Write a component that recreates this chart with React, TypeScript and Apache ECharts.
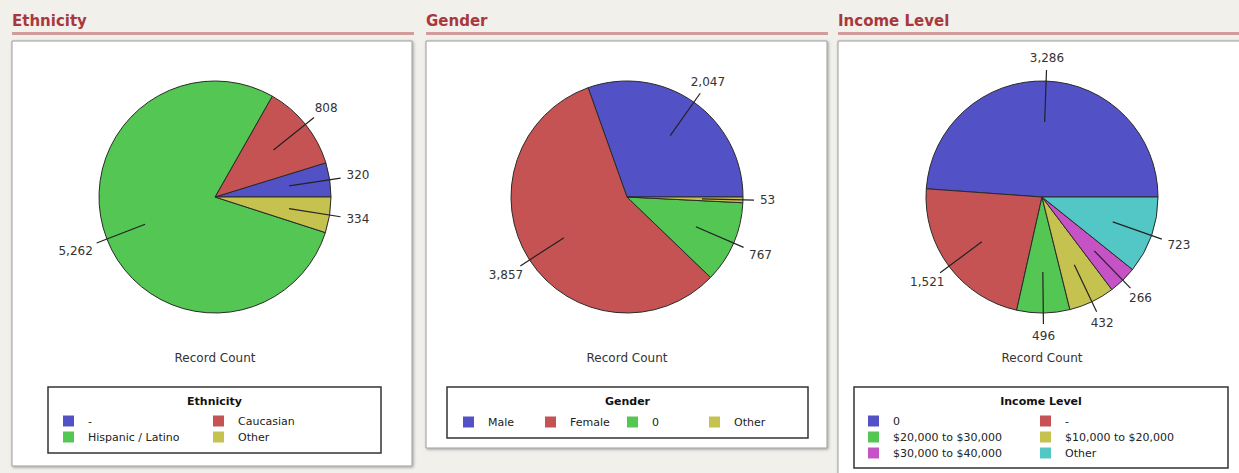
import React, { useEffect, useRef } from 'react';
import * as echarts from 'echarts';

const W = 1239;
const H = 473;
const FONT = '"DejaVu Sans", Verdana, sans-serif';
const PALETTE = ['#5252c6', '#c65353', '#53c653', '#c6c24f', '#c653c6', '#53c6c6'];

// ---- data ----
const ethnicityCategories = ['-', 'Caucasian', 'Hispanic / Latino', 'Other'];
const ethnicityValues = [320, 808, 5262, 334];

const genderCategories = ['Male', 'Female', '0', 'Other'];
const genderValues = [2047, 3857, 767, 53];

const incomeCategories = ['0', '-', '$20,000 to $30,000', '$10,000 to $20,000', '$30,000 to $40,000', 'Other'];
const incomeValues = [3286, 1521, 496, 432, 266, 723];

const panelTitles = ['Ethnicity', 'Gender', 'Income Level'];
const measureLabel = 'Record Count';

// ---- layout (positions/styles only) ----
const panels = [
  {
    title: panelTitles[0], cats: ethnicityCategories, vals: ethnicityValues,
    titleX: 12, lineW: 402, box: [12, 41, 400, 425], cx: 215, cy: 197,
    legendBox: [48, 387, 333, 66], legendLeft: 63, legendTop: 415, legendWidth: 300, textW: 121,
  },
  {
    title: panelTitles[1], cats: genderCategories, vals: genderValues,
    titleX: 426, lineW: 402, box: [426, 41, 401, 407], cx: 627, cy: 197,
    legendBox: [447, 387, 361, 51], legendLeft: 463, legendTop: 416, legendWidth: 340, textW: 53,
  },
  {
    title: panelTitles[2], cats: incomeCategories, vals: incomeValues,
    titleX: 838, lineW: 410, box: [838, 41, 420, 450], cx: 1042, cy: 197,
    legendBox: [854, 387, 374, 81], legendLeft: 868, legendTop: 415, legendWidth: 350, textW: 143,
  },
];

const labelLayout = (p: any) => {
  const pts = p.labelLinePoints;
  if (!pts || pts.length < 2) return {};
  const a = pts[0];
  const b = pts[pts.length - 1];
  let dx = b[0] - a[0];
  let dy = b[1] - a[1];
  const len = Math.hypot(dx, dy) || 1;
  dx /= len;
  dy /= len;
  const hw = p.labelRect.width / 2;
  const hh = p.labelRect.height / 2;
  const t = Math.min(
    Math.abs(dx) > 1e-3 ? hw / Math.abs(dx) : 1e9,
    Math.abs(dy) > 1e-3 ? hh / Math.abs(dy) : 1e9
  ) + 6;
  return { x: b[0] + dx * t, y: b[1] + dy * t, align: 'center', verticalAlign: 'middle', labelLinePoints: pts };
};

function buildOption(panel: any, drawBackground: boolean): any {
  const graphic: any[] = [];
  if (drawBackground) {
    graphic.push({ type: 'rect', shape: { x: 0, y: 0, width: W, height: H }, style: { fill: '#f2f0eb' } });
  }
  const [bx, by, bw, bh] = panel.box;
  graphic.push(
    {
      type: 'text', x: panel.titleX, y: 21,
      style: { text: panel.title, fill: '#a8383e', fontFamily: FONT, fontWeight: 'bold', fontSize: 15, verticalAlign: 'middle' },
    },
    { type: 'rect', shape: { x: panel.titleX, y: 32, width: panel.lineW, height: 3 }, style: { fill: '#d39c9c' } },
    {
      type: 'rect', shape: { x: bx, y: by, width: bw, height: bh },
      style: { fill: '#ffffff', stroke: '#9c9c9c', lineWidth: 1, shadowColor: 'rgba(0,0,0,0.35)', shadowBlur: 3, shadowOffsetX: 1, shadowOffsetY: 1 },
    },
    {
      type: 'text', x: panel.cx, y: 358,
      style: { text: measureLabel, fill: '#333', fontFamily: FONT, fontSize: 12, align: 'center', verticalAlign: 'middle' },
    },
    {
      type: 'rect', shape: { x: panel.legendBox[0], y: panel.legendBox[1], width: panel.legendBox[2], height: panel.legendBox[3] },
      style: { fill: 'none', stroke: '#333', lineWidth: 1.5 },
    },
    {
      type: 'text', x: panel.legendBox[0] + panel.legendBox[2] / 2, y: 401,
      style: { text: panel.title, fill: '#111', fontFamily: FONT, fontWeight: 'bold', fontSize: 11, align: 'center', verticalAlign: 'middle' },
    }
  );

  const data = panel.cats.map((n: string, i: number) => ({ name: n, value: panel.vals[i], itemStyle: { color: PALETTE[i] } }));
  const labelData = panel.cats.map((n: string, i: number) => ({ name: n, value: panel.vals[i] }));

  return {
    animation: false,
    graphic,
    legend: {
      left: panel.legendLeft, top: panel.legendTop, width: panel.legendWidth,
      orient: 'horizontal', icon: 'rect', itemWidth: 11, itemHeight: 11, itemGap: 4, padding: 0,
      selectedMode: false,
      itemStyle: { borderWidth: 0 },
      textStyle: { fontFamily: FONT, fontSize: 11, color: '#222', width: panel.textW, lineHeight: 12, padding: [0, 0, 0, 9] },
      data: panel.cats,
    },
    series: [
      {
        type: 'pie', center: [panel.cx, panel.cy], radius: 116, startAngle: 0, clockwise: false,
        silent: true, z: 2, label: { show: false }, labelLine: { show: false },
        itemStyle: { borderColor: '#2a2a2a', borderWidth: 1 },
        data,
      },
      {
        type: 'pie', center: [panel.cx, panel.cy], radius: 75, startAngle: 0, clockwise: false,
        silent: true, z: 5, avoidLabelOverlap: false, legendHoverLink: false,
        itemStyle: { color: 'rgba(0,0,0,0)', borderWidth: 0 },
        label: {
          show: true, position: 'outside', fontFamily: FONT, fontSize: 12, color: '#333',
          formatter: (p: any) => Number(p.value).toLocaleString('en-US'),
        },
        labelLine: { show: true, length: 52, length2: 0, lineStyle: { color: '#222', width: 1.2 } },
        labelLayout,
        data: labelData,
      },
    ],
  };
}

function PanelChart({ panel, drawBackground }: { panel: any; drawBackground: boolean }) {
  const ref = useRef<HTMLDivElement>(null);
  useEffect(() => {
    if (!ref.current) return;
    const chart = echarts.init(ref.current, null, { renderer: 'svg', width: W, height: H });
    chart.setOption(buildOption(panel, drawBackground));
    return () => chart.dispose();
  }, [panel, drawBackground]);
  return <div ref={ref} style={{ position: 'absolute', left: 0, top: 0, width: W, height: H }} />;
}

export default function App() {
  return (
    <div style={{ position: 'absolute', left: 0, top: 0, width: W, height: H, overflow: 'hidden' }}>
      {panels.map((p, i) => (
        <PanelChart key={i} panel={p} drawBackground={i === 0} />
      ))}
    </div>
  );
}
